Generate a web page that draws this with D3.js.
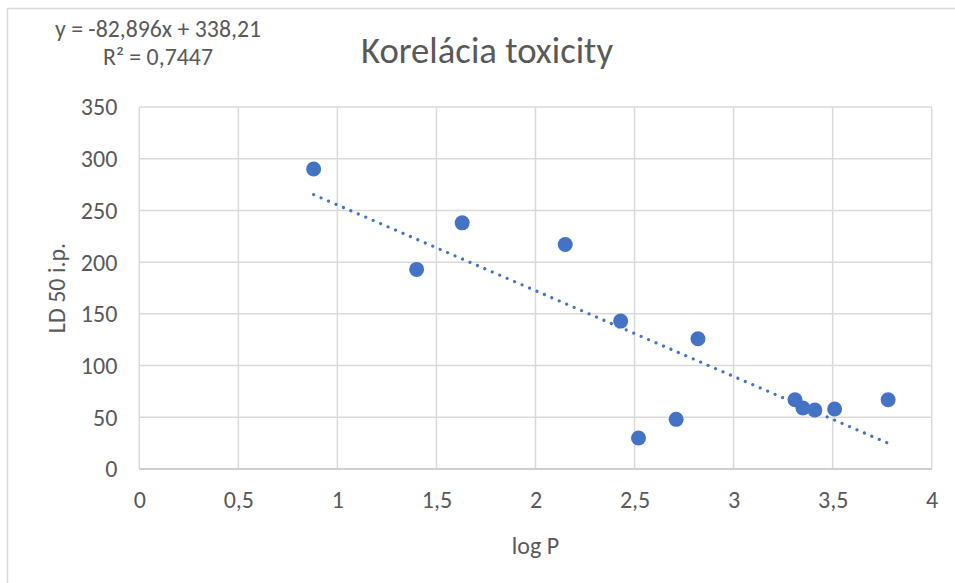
<!DOCTYPE html>
<html>
<head>
<meta charset="utf-8">
<script src="https://cdn.jsdelivr.net/npm/d3@7"></script>
<style>
  body { margin: 0; background: #fff; }
  svg { display: block; font-family: "Carlito", "Open Sans", sans-serif; }
</style>
</head>
<body>
<div id="chart"></div>
<script>
// data
const logP = [0.88, 1.40, 1.63, 2.15, 2.43, 2.52, 2.71, 2.82, 3.31, 3.35, 3.41, 3.51, 3.78];
const ld50 = [290, 193, 238, 217, 143, 30, 48, 126, 67, 59, 57, 58, 67];
const xTicks = [0, 0.5, 1, 1.5, 2, 2.5, 3, 3.5, 4];
const yTicks = [0, 50, 100, 150, 200, 250, 300, 350];
const trend = { slope: -82.896, intercept: 338.21 };
const eqLines = ['y = -82,896x + 338,21', 'R\u00B2 = 0,7447'];

const width = 955, height = 583;
const margin = { top: 107, right: 23.3, bottom: 114, left: 139.3 };
const textColor = '#595959';
const fontFamily = '"Carlito", "Open Sans", sans-serif';
const fmt = d => String(d).replace('.', ',');

const svg = d3.select('#chart').append('svg')
    .attr('width', width)
    .attr('height', height);

// chart border (only left/top edges visible in frame)
svg.append('rect')
    .attr('x', 7.5).attr('y', 8.5)
    .attr('width', 980).attr('height', 600)
    .attr('fill', 'none')
    .attr('stroke', '#d9d9d9')
    .attr('stroke-width', 1.5);

const x = d3.scaleLinear().domain([0, 4]).range([margin.left, width - margin.right]);
const y = d3.scaleLinear().domain([0, 350]).range([height - margin.bottom, margin.top]);

// gridlines
const grid = svg.append('g');
grid.selectAll('.vgrid')
    .data(xTicks)
    .enter()
    .append('line')
    .attr('x1', d => x(d)).attr('x2', d => x(d))
    .attr('y1', y(0)).attr('y2', y(350))
    .attr('stroke', '#d9d9d9')
    .attr('stroke-width', 1.5);
grid.selectAll('.hgrid')
    .data(yTicks)
    .enter()
    .append('line')
    .attr('x1', x(0)).attr('x2', x(4))
    .attr('y1', d => y(d)).attr('y2', d => y(d))
    .attr('stroke', d => d === 0 ? '#cfcfcf' : '#d9d9d9')
    .attr('stroke-width', d => d === 0 ? 2 : 1.5);

// axes (labels only, Excel style)
const xAxis = svg.append('g')
    .attr('transform', `translate(0,${y(0)})`)
    .call(d3.axisBottom(x).tickValues(xTicks).tickFormat(fmt).tickSize(0).tickPadding(0));
xAxis.attr('font-family', fontFamily).attr('font-size', 24);
xAxis.select('.domain').remove();
xAxis.selectAll('text')
    .attr('y', 39)
    .attr('dy', 0)
    .attr('fill', textColor);

const yAxis = svg.append('g')
    .attr('transform', `translate(${x(0)},0)`)
    .call(d3.axisLeft(y).tickValues(yTicks).tickFormat(fmt).tickSize(0).tickPadding(22));
yAxis.attr('font-family', fontFamily).attr('font-size', 24);
yAxis.select('.domain').remove();
yAxis.selectAll('text')
    .attr('dy', '0.33em')
    .attr('fill', textColor);

// trendline
const x0 = d3.min(logP), x1 = d3.max(logP);
svg.append('line')
    .attr('x1', x(x0)).attr('y1', y(trend.slope * x0 + trend.intercept))
    .attr('x2', x(x1)).attr('y2', y(trend.slope * x1 + trend.intercept))
    .attr('stroke', '#4472C4')
    .attr('stroke-width', 3.2)
    .attr('stroke-linecap', 'round')
    .attr('stroke-dasharray', '0.01 8.1');

// points
svg.selectAll('.pt')
    .data(logP.map((v, i) => [v, ld50[i]]))
    .enter()
    .append('circle')
    .attr('class', 'pt')
    .attr('cx', d => x(d[0]))
    .attr('cy', d => y(d[1]))
    .attr('r', 7.5)
    .attr('fill', '#4472C4');

// title
svg.append('text')
    .attr('x', 487).attr('y', 63)
    .attr('text-anchor', 'middle')
    .attr('textLength', 252)
    .attr('lengthAdjust', 'spacingAndGlyphs')
    .style('font-size', '36px')
    .attr('fill', textColor)
    .text('Korelácia toxicity');

// trendline equation
svg.append('text')
    .attr('x', 158).attr('y', 37)
    .attr('text-anchor', 'middle')
    .attr('textLength', 206)
    .attr('lengthAdjust', 'spacingAndGlyphs')
    .style('font-size', '24px')
    .attr('fill', textColor)
    .text(eqLines[0]);
svg.append('text')
    .attr('x', 158).attr('y', 65)
    .attr('text-anchor', 'middle')
    .attr('textLength', 110)
    .attr('lengthAdjust', 'spacingAndGlyphs')
    .style('font-size', '24px')
    .attr('fill', textColor)
    .text(eqLines[1]);

// axis titles
svg.append('text')
    .attr('x', (x(0) + x(4)) / 2).attr('y', 554)
    .attr('text-anchor', 'middle')
    .style('font-size', '24px')
    .attr('fill', textColor)
    .text('log P');

svg.append('text')
    .attr('transform', `translate(65,${(y(0) + y(350)) / 2}) rotate(-90)`)
    .attr('text-anchor', 'middle')
    .style('font-size', '24px')
    .attr('fill', textColor)
    .text('LD 50 i.p.');
</script>
</body>
</html>
